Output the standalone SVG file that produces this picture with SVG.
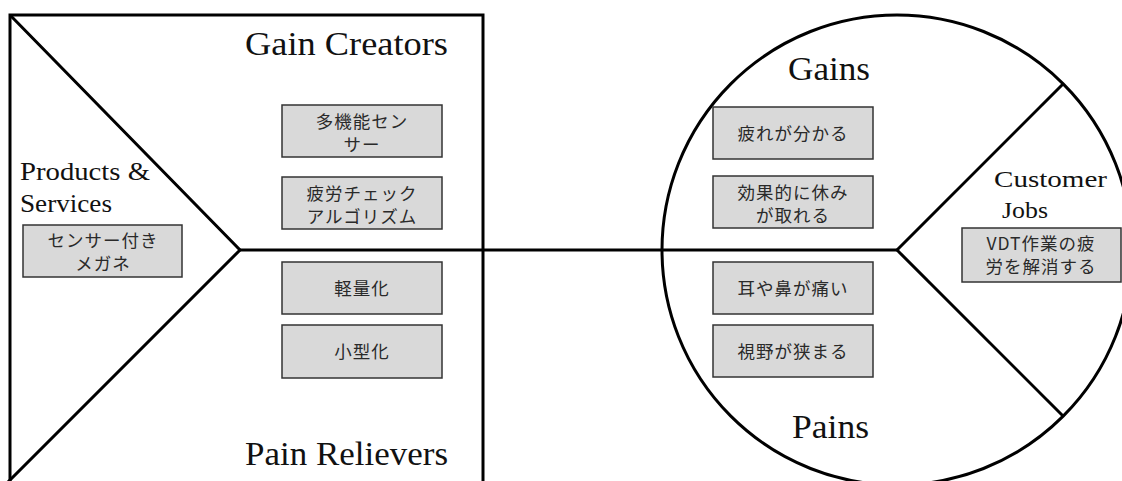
<svg xmlns="http://www.w3.org/2000/svg" width="1122" height="481" viewBox="0 0 1122 481">
<style>
.frame{fill:none;stroke:#000;stroke-width:3}
.box{fill:#d9d9d9;stroke:#333;stroke-width:1.5}
.lbl{font-family:"Liberation Serif","Times New Roman",serif;fill:#111}
.jp{font-family:"Noto Sans CJK JP","Noto Sans CJK SC",sans-serif;font-size:17.5px;fill:#2a2a2a;text-anchor:middle;letter-spacing:1px}
</style>
<rect width="1122" height="481" fill="#fff"/>
<g id="connectors">
<rect class="frame" x="10" y="15" width="473" height="490"/>
<polyline class="frame" points="10,15 240,250 5,485"/>
<line class="frame" x1="240" y1="250" x2="897" y2="250"/>
<circle class="frame" cx="897" cy="250" r="235"/>
<line class="frame" x1="897" y1="250" x2="1063" y2="84"/>
<line class="frame" x1="897" y1="250" x2="1063" y2="416"/>
</g>
<g id="labels">
<text class="lbl" x="245" y="55" font-size="33" textLength="203" lengthAdjust="spacingAndGlyphs">Gain Creators</text>
<text class="lbl" x="245" y="465" font-size="33" textLength="203" lengthAdjust="spacingAndGlyphs">Pain Relievers</text>
<text class="lbl" x="20" y="180" font-size="25" textLength="130" lengthAdjust="spacingAndGlyphs">Products &amp;</text>
<text class="lbl" x="20" y="212" font-size="25" textLength="92" lengthAdjust="spacingAndGlyphs">Services</text>
<text class="lbl" x="788" y="80" font-size="33" textLength="82" lengthAdjust="spacingAndGlyphs">Gains</text>
<text class="lbl" x="792" y="438" font-size="33" textLength="77" lengthAdjust="spacingAndGlyphs">Pains</text>
<text class="lbl" x="994" y="187" font-size="24" textLength="113" lengthAdjust="spacingAndGlyphs">Customer</text>
<text class="lbl" x="1002" y="218" font-size="24" textLength="46" lengthAdjust="spacingAndGlyphs">Jobs</text>
</g>
<g id="node-products">
<rect class="box" x="23" y="225" width="159" height="52"/>
<text class="jp" x="103" y="247">センサー付き</text>
<text class="jp" x="103" y="270">メガネ</text>
</g>
<g id="node-gc1">
<rect class="box" x="282" y="105" width="160" height="52"/>
<text class="jp" x="362" y="128">多機能セン</text>
<text class="jp" x="362" y="151">サー</text>
</g>
<g id="node-gc2">
<rect class="box" x="282" y="177" width="160" height="52"/>
<text class="jp" x="362" y="200">疲労チェック</text>
<text class="jp" x="362" y="223">アルゴリズム</text>
</g>
<g id="node-pr1">
<rect class="box" x="282" y="262" width="160" height="52"/>
<text class="jp" x="362" y="295">軽量化</text>
</g>
<g id="node-pr2">
<rect class="box" x="282" y="325" width="160" height="53"/>
<text class="jp" x="362" y="358">小型化</text>
</g>
<g id="node-g1">
<rect class="box" x="713" y="107" width="160" height="52"/>
<text class="jp" x="793" y="140">疲れが分かる</text>
</g>
<g id="node-g2">
<rect class="box" x="713" y="176" width="160" height="52"/>
<text class="jp" x="793" y="199">効果的に休み</text>
<text class="jp" x="793" y="222">が取れる</text>
</g>
<g id="node-p1">
<rect class="box" x="713" y="262" width="160" height="52"/>
<text class="jp" x="793" y="295">耳や鼻が痛い</text>
</g>
<g id="node-p2">
<rect class="box" x="713" y="325" width="160" height="52"/>
<text class="jp" x="793" y="358">視野が狭まる</text>
</g>
<g id="node-job">
<rect class="box" x="962" y="228" width="159" height="54"/>
<text class="jp" x="1041" y="250">VDT作業の疲</text>
<text class="jp" x="1041" y="273">労を解消する</text>
</g>
</svg>
